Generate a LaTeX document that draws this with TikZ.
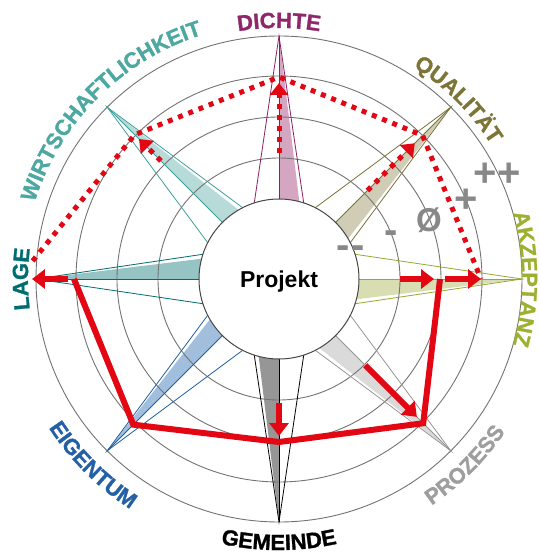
\documentclass[tikz,border=0pt]{standalone}
\usepackage{fontspec}
\setmainfont{Liberation Sans}
\newfontfamily\heavyfont{Liberation Sans}[BoldFeatures={FakeBold=1.2}]
\usetikzlibrary{arrows.meta,decorations.text}

% axis colours: stroke (S), fill (F), label (L)
\definecolor{dichteS}{RGB}{139,30,100}
\definecolor{dichteF}{RGB}{212,166,194}
\definecolor{dichteL}{RGB}{142,40,106}
\definecolor{qualS}{RGB}{122,114,56}
\definecolor{qualF}{RGB}{208,204,182}
\definecolor{qualL}{RGB}{125,117,55}
\definecolor{akzS}{RGB}{150,168,45}
\definecolor{akzF}{RGB}{217,221,178}
\definecolor{akzL}{RGB}{158,176,48}
\definecolor{proS}{RGB}{150,150,150}
\definecolor{proF}{RGB}{218,218,218}
\definecolor{proL}{RGB}{158,158,158}
\definecolor{gemS}{RGB}{0,0,0}
\definecolor{gemF}{RGB}{150,150,150}
\definecolor{gemL}{RGB}{0,0,0}
\definecolor{eigS}{RGB}{30,95,162}
\definecolor{eigF}{RGB}{162,190,221}
\definecolor{eigL}{RGB}{35,96,166}
\definecolor{lageS}{RGB}{0,108,110}
\definecolor{lageF}{RGB}{150,196,196}
\definecolor{lageL}{RGB}{0,110,112}
\definecolor{wirtS}{RGB}{60,160,155}
\definecolor{wirtF}{RGB}{182,219,217}
\definecolor{wirtL}{RGB}{76,168,160}
\definecolor{ringC}{RGB}{115,115,115}
\definecolor{innerC}{RGB}{70,70,70}
\definecolor{scaleC}{RGB}{136,136,136}
\definecolor{mark}{RGB}{227,6,19}

\def\lbl{\heavyfont\fontsize{22}{26}\selectfont\bfseries}

\tikzset{
  ring/.style={draw=ringC, line width=0.9pt},
  needle/.style={line width=0.8pt},
  reddot/.style={draw=mark, line width=5pt, dash pattern=on 5pt off 6pt},
  redline/.style={draw=mark, line width=6pt, miter limit=10},
  redarrow/.style={draw=mark, line width=6pt, -{Triangle[length=13pt,width=19pt]}},
  reddotarrow/.style={reddot, -{Triangle[length=12pt,width=18pt]}},
  scalemark/.style={text=scaleC, inner sep=0pt, anchor=base},
  toplabel/.style 2 args={decorate, decoration={text along path, text align=center,
      text color=#1, text={|\lbl|#2}}},
}

\begin{document}
\begin{tikzpicture}[x=1pt,y=1pt]
\useasboundingbox (-279,-275) rectangle (260,279);

% half-filled needles
\foreach \a/\s/\f in {90/dichteS/dichteF, 45/qualS/qualF, 0/akzS/akzF,
    -45/proS/proF, -90/gemS/gemF, -135/eigS/eigF, 180/lageS/lageF, 135/wirtS/wirtF}{
  \fill[\f] (\a:243) -- (\a:70) -- ({\a-18}:70) -- cycle;
}

% scale rings
\foreach \r in {121,162,203,243}{
  \draw[ring] (0,0) circle[radius=\r];
}

% needle outlines and centre lines
\foreach \a/\s in {90/dichteS, 45/qualS, 0/akzS, -45/proS, -90/gemS, -135/eigS, 180/lageS, 135/wirtS}{
  \draw[needle, draw=\s] ({\a+18}:80) -- (\a:243) -- ({\a-18}:80);
  \draw[needle, draw=\s] (\a:80) -- (\a:243);
}

% target profile (dotted)
\coordinate (tLage) at (175.8:247);
\coordinate (tWirt) at (135:204);
\coordinate (tDichte) at (90:202);
\coordinate (tQual) at (45:203);
\coordinate (tAkz) at (0:202);
\draw[reddot] (tLage) -- (tWirt) -- (tDichte) -- (tQual) -- (tAkz);

\coordinate (dA1) at (90:126);  \coordinate (dA2) at (90:196);
\coordinate (qA1) at (45:125);  \coordinate (qA2) at (45:192);
\coordinate (wA1) at (135:167); \coordinate (wA2) at (135:198);
\draw[reddotarrow] (dA1) -- (dA2);
\draw[reddotarrow] (qA1) -- (qA2);
\draw[reddotarrow] (wA1) -- (wA2);

% current profile (solid)
\coordinate (cLage) at (180:205);
\coordinate (cEig) at (225:206);
\coordinate (cGem) at (270:163);
\coordinate (cPro) at (315:204);
\coordinate (cAkz) at (0:161);
\draw[redline] (cLage) -- (cEig) -- (cGem) -- (cPro) -- (cAkz);

\coordinate (lA1) at (180:211); \coordinate (lA2) at (180:247);
\coordinate (aA1) at (0:121);   \coordinate (aA2) at (0:155);
\coordinate (aB1) at (0:166);   \coordinate (aB2) at (0:202);
\coordinate (pA1) at (315:122); \coordinate (pA2) at (315:195);
\coordinate (gA1) at (270:124); \coordinate (gA2) at (270:157);
\draw[redarrow] (lA1) -- (lA2);
\draw[redarrow] (aA1) -- (aA2);
\draw[redarrow] (aB1) -- (aB2);
\draw[redarrow] (pA1) -- (pA2);
\draw[redarrow] (gA1) -- (gA2);

% project hub
\draw[fill=white, draw=innerC, line width=1pt] (0,0) circle[radius=80];
\node[font=\fontsize{23}{27}\selectfont\bfseries, anchor=base, inner sep=0pt] (proj) at (0,-8) {Projekt};

% scale marks
\node[scalemark, font=\fontsize{40}{44}\selectfont\bfseries] (s1) at (72,{31-10.4}) {-{}\kern2pt-};
\node[scalemark, font=\fontsize{40}{44}\selectfont\bfseries] (s2) at (112,{46-10.4}) {-};
\node[scalemark, font=\fontsize{33}{37}\selectfont\bfseries] (s3) at (150,{59.5-11.8}) {Ø};
\node[scalemark, font=\fontsize{40}{44}\selectfont\bfseries] (s4) at (187,{80-13.4}) {+};
\node[scalemark, font=\fontsize{40}{44}\selectfont\bfseries] (s5) at (218,{105.5-13.4}) {++};

% axis labels, upper half read clockwise
\path[toplabel={dichteL}{DICHTE}] (170:251) arc[start angle=170, end angle=10, radius=251];
\path[toplabel={qualL}{QUALITÄT}] (125:251) arc[start angle=125, end angle=-35, radius=251];
\path[toplabel={akzL}{AKZEPTANZ}] (80:243) arc[start angle=80, end angle=-80, radius=243];
\path[toplabel={lageL}{LAGE}] (260:251) arc[start angle=260, end angle=100, radius=251];
\path[toplabel={wirtL}{WIRTSCHAFTLICHKEIT}] (215:256) arc[start angle=215, end angle=55, radius=256];
% lower half read counter-clockwise
\path[toplabel={gemL}{GEMEINDE}] (190:271) arc[start angle=190, end angle=350, radius=271];
\path[toplabel={proL}{PROZESS}] (235:273) arc[start angle=235, end angle=395, radius=273];
\path[toplabel={eigL}{EIGENTUM}] (145:274) arc[start angle=145, end angle=305, radius=274];
\end{tikzpicture}
\end{document}
